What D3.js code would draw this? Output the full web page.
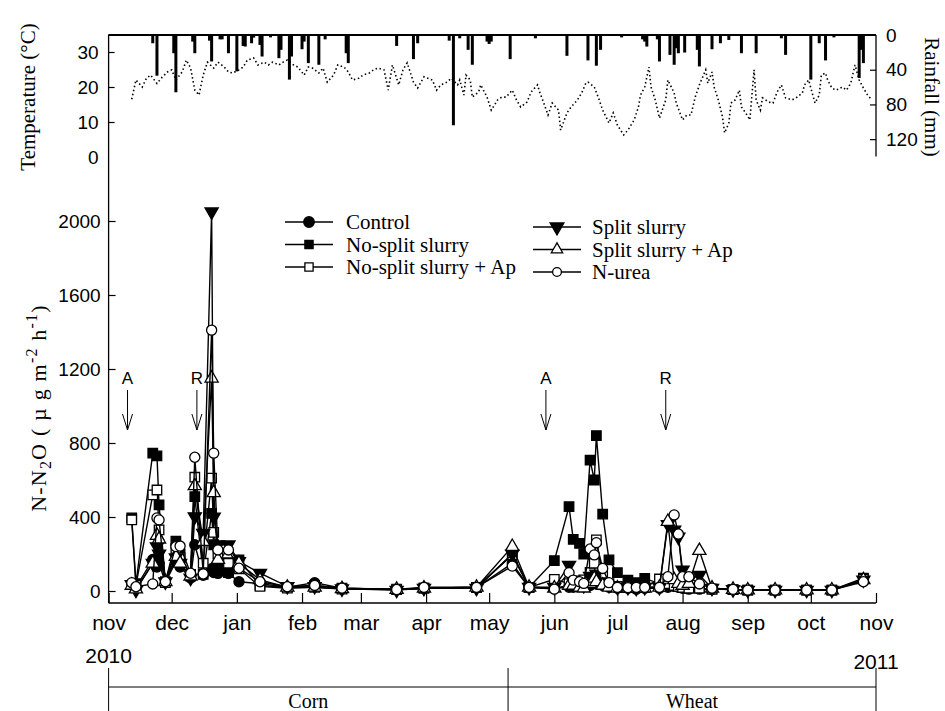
<!DOCTYPE html>
<html><head><meta charset="utf-8">
<script src="https://cdn.jsdelivr.net/npm/d3@7/dist/d3.min.js"></script>
<style>body{margin:0;background:#fff} svg{display:block}</style>
</head><body><svg id="c" width="945" height="711"></svg>
<script>
// ---------- DATA ----------
const monthLabels = ["nov","dec","jan","feb","mar","apr","may","jun","jul","aug","sep","oct","nov"];
const yearLabels = ["2010","2011"];
const yTicks = [0,400,800,1200,1600,2000];
const tempTicks = [0,10,20,30];
const rainTicks = [0,40,80,120];
const seriesNames = ["Control","No-split slurry","No-split slurry + Ap","Split slurry","Split slurry + Ap","N-urea"];
const seasons = ["Corn","Wheat"];
const seasonBoundary = "2011-05-10";
const eventLabels = ["A","R","A","R"];
const eventDates = ["2010-11-10","2010-12-13","2011-05-28","2011-07-24"];

// sampling dates: days after 1 Nov 2010
const sampleDays = [11,13,21,23,24,27,32,34,39,41,45,49,50,52,57,62,72,85,98,111,137,150,175,192,
  200,212,219,221,224,226,229,231,232,235,238,242,247,251,255,262,266,269,271,273,276,281,287,297,304,317,332,344,359];
const control = [40,20,170,130,150,45,160,130,70,250,85,120,100,95,95,50,40,20,45,15,8,15,18,150,
  20,15,20,20,30,25,30,40,50,30,20,15,15,10,15,15,20,25,20,15,10,10,10,8,5,5,5,5,55];
const noSplit = [395,40,745,730,465,50,270,200,80,510,90,420,250,120,100,168,30,20,30,15,10,15,18,200,
  20,164,456,279,257,200,708,600,840,416,168,99,59,45,68,40,30,30,25,20,15,15,10,8,5,5,5,5,70];
const noSplitAp = [384,30,520,546,330,45,230,180,90,615,150,610,317,200,150,120,25,15,20,10,8,15,20,195,
  20,63,40,40,50,60,100,150,276,80,40,25,20,20,20,65,40,30,25,20,15,15,10,8,5,5,5,5,65];
const split = [35,5,150,240,200,50,180,150,70,402,312,2050,400,250,250,160,96,25,25,12,5,15,15,200,
  20,20,140,60,40,30,80,60,92,50,30,20,20,15,20,20,360,330,292,114,60,86,15,8,5,5,5,5,60];
const splitAp = [30,10,150,300,280,50,186,150,80,568,267,1150,531,170,200,150,60,20,20,12,8,15,20,240,
  20,15,30,30,20,15,40,68,50,30,20,15,15,15,15,20,375,60,40,30,40,218,15,8,5,5,5,5,60];
const nUrea = [45,23,38,395,384,50,240,243,96,723,92,1410,745,222,222,123,50,23,30,15,8,20,20,135,
  20,10,99,59,50,41,227,195,261,122,45,20,18,20,20,20,77,411,308,77,77,38,15,9,5,5,5,5,50];

// daily temperature (days after 1 Nov 2010, °C)
const tempDays = [11,13,16,18,20,23,25,28,30,32,35,37,39,41,43,45,47,50,52,55,57,59,62,64,66,69,71,74,76,78,81,83,85,88,90,93,95,97,100,102,104,107,109,112,114,116,119,121,124,126,128,131,133,135,138,140,142,145,147,150,154,156,158,161,163,166,167,169,170,172,173,176,177,180,182,185,187,189,192,194,196,199,201,204,205,207,209,211,214,215,218,220,223,225,227,228,231,233,235,238,240,242,245,247,250,252,253,255,257,258,260,262,265,266,269,270,273,275,277,279,281,284,285,287,288,290,292,293,295,296,298,300,301,303,305,307,308,310,311,314,316,318,320,322,325,327,330,331,333,334,336,338,339,341,342,344,346,349,351,353,355,357,359,361,363];
const tempValues = [16.5,22,20,22.5,23.4,21,22.5,24.3,24.9,22,24.3,27.7,25.4,19.1,17.7,23.4,27.1,25.4,27.1,25.7,24.3,24,24.9,25.7,27.7,28.3,26.3,27.1,26.3,27.1,26.3,27.1,27.7,26.3,25.7,23.4,25.7,25.4,24,25.4,21.4,23.4,26.3,25.7,24.3,22,22.5,23.4,24,24.9,25.4,24.9,19.1,26.3,20.6,24.9,26.9,21.4,19.7,22.9,22,19.1,20.6,21.4,22.5,20.6,22,17.7,23.4,22,17.1,18.6,20.6,17.1,13.4,16.3,17.1,17.1,19.1,16.3,14.3,15.7,18.6,20.6,18.6,15.4,12,15.4,13.4,7.7,12.6,14.3,16.3,18.3,21.1,21.4,20,16.9,13.4,9.7,12.6,9.1,6.3,7.7,10.6,14.3,17.7,20,25.7,20,16.3,11.1,16.3,22,18.3,15.4,10.6,12,12,17.1,20.6,24.9,21.1,24.3,20,16.3,11.4,6.9,9.7,15.4,16.3,19.1,14.3,12.6,10.6,24.9,16.3,13.4,16.9,15.7,15.4,18.6,20.6,16.9,16.3,16.9,18.3,20.6,22,19.7,15.4,17.7,23.4,24,22,19.7,19.1,20,19.1,21.1,26.3,22,19.7,17.7,16.3];

// daily rainfall events (days after 1 Nov 2010, mm)
const rainDays = [21,23,31,32,40,41,48,49,53,54,57,61,64,65,68,69,72,73,77,81,82,86,87,92,93,95,98,100,103,113,114,137,145,147,162,164,167,171,173,180,181,182,191,203,218,228,232,234,244,254,255,256,261,262,267,269,270,271,274,280,281,287,291,295,301,308,320,322,334,338,341,345,357,358,359];
const rainValues = [9.5,46.9,21,66,7.6,21,6.5,30.5,5,5,21,41.9,12.6,13.3,9.5,3,11.4,24.8,2.7,26.7,17.1,51.4,24.8,16.4,7.6,32.4,1.1,34.3,5,21,32.4,12.6,27.8,9.5,6.5,104,3.8,17.1,34.3,7.6,10.3,7.6,27.8,3.8,24,29.3,35.4,17.1,2.7,5,7.6,13.3,5,30.5,22.9,34.3,15.2,21,20.2,17.1,36.2,16.4,9.5,5.7,21,21,3.8,22.9,51.4,9.5,29.3,2.7,49.5,17.1,32.4];

// ---------- CHART ----------
const svg = d3.select("#c");
const start = new Date(2010,10,1);
const day = d => d3.timeDay.offset(start, d);
const x = d3.scaleTime().domain([new Date(2010,10,1), new Date(2011,10,1)]).range([108.6, 876]);
const y = d3.scaleLinear().domain([0,2000]).range([591,221]);
const tY = d3.scaleLinear().domain([0,35]).range([157,34.5]);
const rY = d3.scaleLinear().domain([0,140]).range([35,156.5]);
const SANS = "'Liberation Sans', Arial, sans-serif";
const SERIF = "'Liberation Serif', 'Times New Roman', serif";
const X0 = x.range()[0], X1 = x.range()[1];
const axisBottomY = 603;

// frame lines
svg.append("line").attr("x1",X0).attr("x2",X0).attr("y1",tY(35)).attr("y2",axisBottomY).attr("stroke","#000").attr("stroke-width",1.3);
svg.append("line").attr("x1",X0).attr("x2",X1).attr("y1",axisBottomY).attr("y2",axisBottomY).attr("stroke","#000").attr("stroke-width",1.3);
svg.append("line").attr("x1",X0).attr("x2",X1).attr("y1",rY(0)).attr("y2",rY(0)).attr("stroke","#000").attr("stroke-width",2.2);
svg.append("line").attr("x1",X1).attr("x2",X1).attr("y1",rY(0)).attr("y2",rY(140)).attr("stroke","#000").attr("stroke-width",1.3);

// rainfall bars
svg.append("g").selectAll("rect").data(rainDays).join("rect")
  .attr("x",(d)=>x(day(d))-1.5).attr("width",3)
  .attr("y",rY(0)).attr("height",(d,i)=>rY(rainValues[i])-rY(0)).attr("fill","#000");

// temperature dotted line
svg.append("path").datum(tempDays.map((d,i)=>[d,tempValues[i]]))
  .attr("d", d3.line().x(d=>x(day(d[0]))).y(d=>tY(d[1])))
  .attr("fill","none").attr("stroke","#000").attr("stroke-width",1.6).attr("stroke-dasharray","1.5,2.6");

// temperature axis
const gT = svg.append("g").attr("transform",`translate(${X0},0)`)
  .call(d3.axisLeft(tY).tickValues(tempTicks).tickSize(-6).tickSizeOuter(0).tickPadding(10).tickFormat(d3.format("d")));
gT.select(".domain").remove();
gT.selectAll(".tick line").attr("stroke","#000").attr("stroke-width",1.2).filter(d=>d===0).remove();
gT.selectAll("text").attr("font-family",SANS).attr("font-size",19).attr("fill","#000");

// rainfall axis
const gR = svg.append("g").attr("transform",`translate(${X1},0)`)
  .call(d3.axisRight(rY).tickValues(rainTicks).tickSize(-6).tickSizeOuter(0).tickPadding(10).tickFormat(d3.format("d")));
gR.select(".domain").remove();
gR.selectAll(".tick line").attr("stroke","#000").attr("stroke-width",1.2).filter(d=>d===0).remove();
gR.selectAll("text").attr("font-family",SANS).attr("font-size",19).attr("fill","#000");

// main y axis
const gY = svg.append("g").attr("transform",`translate(${X0},0)`)
  .call(d3.axisLeft(y).tickValues(yTicks).tickSize(-7).tickSizeOuter(0).tickPadding(8).tickFormat(d3.format("d")));
gY.select(".domain").remove();
gY.selectAll(".tick line").attr("stroke","#000").attr("stroke-width",1.2);
gY.selectAll("text").attr("font-family",SANS).attr("font-size",19).attr("fill","#000");

// main x axis
const monthDates = d3.range(13).map(i=>d3.timeMonth.offset(start,i));
const gX = svg.append("g").attr("transform",`translate(0,${axisBottomY})`)
  .call(d3.axisBottom(x).tickValues(monthDates).tickSize(-10).tickSizeOuter(0).tickPadding(12).tickFormat((d,i)=>monthLabels[i]));
gX.select(".domain").remove();
gX.selectAll(".tick line").attr("stroke","#000").attr("stroke-width",1.2);
gX.selectAll("text").attr("font-family",SANS).attr("font-size",21).attr("fill","#000");
svg.append("text").attr("x",x(monthDates[0])).attr("y",663).attr("text-anchor","middle")
  .attr("font-family",SANS).attr("font-size",21).text(yearLabels[0]);
svg.append("text").attr("x",x(monthDates[12])).attr("y",669).attr("text-anchor","middle")
  .attr("font-family",SANS).attr("font-size",21).text(yearLabels[1]);

// season band
const parse = d3.timeParse("%Y-%m-%d");
const bx = x(parse(seasonBoundary));
[X0,bx,X1].forEach(v=>svg.append("line").attr("x1",v).attr("x2",v).attr("y1",668).attr("y2",711).attr("stroke","#000").attr("stroke-width",1));
svg.append("line").attr("x1",X0).attr("x2",X1).attr("y1",687).attr("y2",687).attr("stroke","#000").attr("stroke-width",1);
svg.append("text").attr("x",(X0+bx)/2).attr("y",708).attr("text-anchor","middle").attr("font-family",SERIF).attr("font-size",20).text(seasons[0]);
svg.append("text").attr("x",(bx+X1)/2).attr("y",708).attr("text-anchor","middle").attr("font-family",SERIF).attr("font-size",20).text(seasons[1]);

// axis titles
svg.append("text").attr("transform","translate(28,97) rotate(-90)").attr("text-anchor","middle")
  .attr("dominant-baseline","central").attr("font-family",SERIF).attr("font-size",21).text("Temperature (°C)");
svg.append("text").attr("transform","translate(932,97) rotate(90)").attr("text-anchor","middle")
  .attr("dominant-baseline","central").attr("font-family",SERIF).attr("font-size",21).text("Rainfall (mm)");
const yt = svg.append("text").attr("transform","translate(46,408) rotate(-90)").attr("text-anchor","middle")
  .attr("font-family",SERIF).attr("font-size",22).attr("letter-spacing",1.2);
yt.append("tspan").text("N-N");
yt.append("tspan").attr("font-size",16).attr("dy",5).text("2");
yt.append("tspan").attr("dy",-5).text("O ( µ g m");
yt.append("tspan").attr("font-size",16).attr("dy",-9).text("-2");
yt.append("tspan").attr("dy",9).text(" h");
yt.append("tspan").attr("font-size",16).attr("dy",-9).text("-1");
yt.append("tspan").attr("dy",9).text(")");

// event arrows
eventDates.forEach((ds,i)=>{
  const ex = x(parse(ds));
  svg.append("text").attr("x",ex).attr("y",384).attr("text-anchor","middle").attr("font-family",SANS).attr("font-size",17).text(eventLabels[i]);
  svg.append("line").attr("x1",ex).attr("x2",ex).attr("y1",390).attr("y2",430).attr("stroke","#000").attr("stroke-width",1);
  svg.append("path").attr("d",`M${ex-5},${414} L${ex},${430} L${ex+5},${414}`).attr("fill","none").attr("stroke","#000").attr("stroke-width",1);
});

// series
const seriesData = [control, noSplit, noSplitAp, split, splitAp, nUrea];
const symType = [d3.symbolCircle, d3.symbolSquare, d3.symbolSquare, d3.symbolTriangle, d3.symbolTriangle, d3.symbolCircle];
const symSize = [80, 90, 90, 75, 75, 80];
const symFill = ["#000","#000","#fff","#000","#fff","#fff"];
const symRot = [0,0,0,180,0,0];
function marker(g, i, cx, cy, scale){
  g.append("path").attr("d", d3.symbol().type(symType[i]).size(symSize[i]*(scale||1))())
    .attr("transform",`translate(${cx},${cy}) rotate(${symRot[i]})`)
    .attr("fill",symFill[i]).attr("stroke","#000").attr("stroke-width",1.3);
}
const line = d3.line().x(d=>x(day(d[0]))).y(d=>y(d[1]));
seriesData.forEach((vals,i)=>{
  const g = svg.append("g");
  const pts = sampleDays.map((d,j)=>[d,vals[j]]);
  g.append("path").datum(pts).attr("d",line).attr("fill","none").attr("stroke","#000").attr("stroke-width",1.4);
  pts.forEach(p=>marker(g,i,x(day(p[0])),y(p[1])));
});

// legend
const legX = [285, 533], legTextX = [346, 592], legY0 = [222, 227], legDy = 22.5;
seriesNames.forEach((n,i)=>{
  const col = i<3?0:1, row = i%3;
  const ly = legY0[col] + row*legDy;
  const g = svg.append("g");
  g.append("line").attr("x1",legX[col]).attr("x2",legX[col]+48).attr("y1",ly).attr("y2",ly).attr("stroke","#000").attr("stroke-width",1.4);
  marker(g,i,legX[col]+24,ly, i===0||i===3?1.1:0.75);
  g.append("text").attr("x",legTextX[col]).attr("y",ly).attr("dominant-baseline","central")
    .attr("font-family",SERIF).attr("font-size",21).text(n);
});
</script></body></html>
